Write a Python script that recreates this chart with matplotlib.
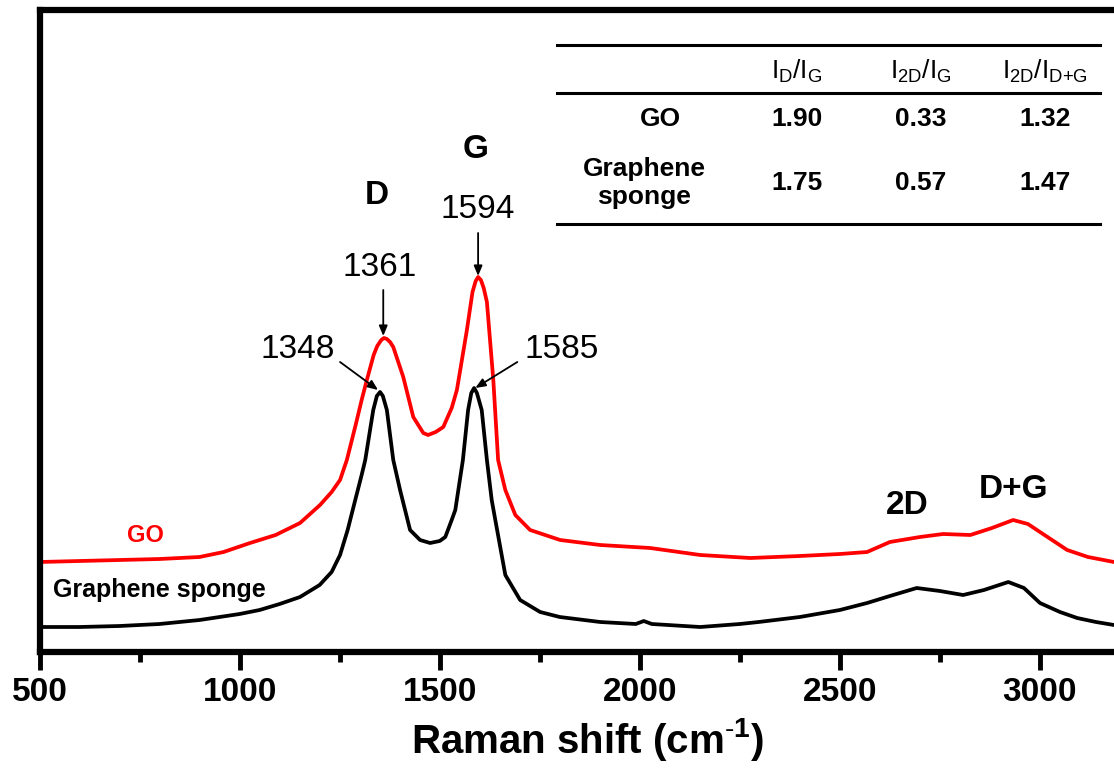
# Raman spectra: GO vs Graphene sponge
import numpy as np
import matplotlib
matplotlib.use('Agg')
import matplotlib.pyplot as plt
from matplotlib.lines import Line2D

plt.rcParams['font.family'] = ['Liberation Sans', 'DejaVu Sans']
plt.rcParams['mathtext.fontset'] = 'custom'
plt.rcParams['mathtext.rm'] = 'Liberation Sans'
plt.rcParams['mathtext.bf'] = 'Liberation Sans:bold'

# --- data (intensity in arbitrary units) ---
sponge_x = [500, 600, 700, 800, 900, 1000, 1050, 1100, 1151, 1200, 1230, 1251,
            1270, 1289, 1305, 1314, 1334, 1343, 1351, 1358, 1368, 1384, 1401,
            1426, 1451, 1476, 1500, 1514, 1530, 1539, 1558, 1571, 1579, 1586,
            1593, 1605, 1618, 1630, 1639, 1664, 1701, 1751, 1800, 1901, 1990,
            2010, 2030, 2151, 2250, 2297, 2400, 2500, 2568, 2625, 2692, 2750,
            2808, 2860, 2921, 2960, 3000, 3050, 3093, 3140, 3185]
sponge_y = [25, 25, 26, 28, 32, 38, 42, 48, 55, 67, 80, 97,
            122, 152, 177, 192, 242, 256, 260, 256, 242, 192, 162,
            122, 112, 109, 111, 115, 132, 142, 192, 242, 259, 264,
            259, 242, 192, 152, 132, 77, 52, 40, 35, 30, 28,
            31, 28, 25, 28, 30, 35, 42, 49, 56, 64, 61,
            57, 62, 70, 64, 49, 40, 34, 30, 27]

go_x = [500, 600, 700, 800, 900, 960, 1026, 1090, 1151, 1201, 1230, 1251,
        1268, 1290, 1305, 1318, 1335, 1344, 1354, 1361, 1368, 1376, 1384,
        1409, 1434, 1459, 1471, 1490, 1509, 1530, 1543, 1568, 1582, 1590,
        1596, 1603, 1610, 1618, 1634, 1646, 1664, 1689, 1726, 1801, 1901,
        2026, 2151, 2276, 2400, 2500, 2568, 2625, 2700, 2758, 2826, 2880,
        2933, 2970, 3000, 3068, 3120, 3185]
go_y = [90, 91, 92, 93, 95, 100, 109, 117, 129, 147, 160, 172,
        192, 227, 252, 272, 297, 306, 312, 314, 313, 310, 305,
        275, 235, 219, 217, 220, 225, 244, 262, 322, 360, 371,
        375, 372, 364, 350, 272, 192, 162, 137, 122, 112, 107,
        104, 97, 94, 96, 98, 100, 110, 115, 118, 117, 124,
        132, 128, 120, 102, 95, 90]

# peak annotations: label, text position, arrow start, arrow tip
peak_labels = ['1594', '1361', '1348', '1585']
peak_text = [(1596, 442), (1351, 384), (1146, 302), (1806, 302)]
peak_from = [(1596, 419), (1359, 362), (1251, 290), (1694, 290)]
peak_to = [(1596, 376), (1359, 316), (1346, 262), (1589, 264)]

band_labels = ['D', 'G', '2D', 'D+G']
band_pos = [(1344, 457), (1591, 502), (2669, 147), (2934, 162)]

# ratio table
table_cols = [r'$\mathregular{I_D/I_G}$', r'$\mathregular{I_{2D}/I_G}$',
              r'$\mathregular{I_{2D}/I_{\text{D+G}}}$']
table_rows = ['GO', 'Graphene\nsponge']
table_vals = [['1.90', '0.33', '1.32'],
              ['1.75', '0.57', '1.47']]

W, H = 1114, 774
fig = plt.figure(figsize=(W / 100, H / 100), dpi=100)
ax = fig.add_axes([39.5 / W, 1 - 652 / H, 1 - 39.5 / W, (652 - 10) / H])


def fp(x, y):
    # pixel -> figure fraction
    return x / W, 1 - y / H


ax.plot(sponge_x, sponge_y, color='black', lw=2.7)
ax.plot(go_x, go_y, color='#ff0000', lw=2.7)

ax.set_xlim(500, 3185)
ax.set_ylim(0, 642)
ax.set_yticks([])
ax.set_xticks([500, 1000, 1500, 2000, 2500, 3000])
ax.set_xticks([750, 1250, 1750, 2250, 2750], minor=True)
ax.tick_params(axis='x', which='major', direction='out', length=13, width=3.5,
               pad=5, labelsize=24)
ax.tick_params(axis='x', which='minor', direction='out', length=7, width=3.5)
for lab in ax.get_xticklabels():
    lab.set_fontweight('bold')
for s in ['left', 'bottom', 'top']:
    ax.spines[s].set_linewidth(4.5)
ax.spines['right'].set_visible(False)

ax.set_xlabel(r'Raman shift (cm$^{\mathbf{\text{-}1}}$)', fontsize=29,
              fontweight='bold', labelpad=6)
ax.xaxis.set_label_coords((588 - 39.5) / (W - 39.5), -0.1)

# peak positions
for lab, t, a, b in zip(peak_labels, peak_text, peak_from, peak_to):
    ax.text(t[0], t[1], lab, fontsize=24, ha='center', va='center')
    ax.annotate('', xy=b, xytext=a,
                arrowprops=dict(arrowstyle='-|>,head_length=0.6,head_width=0.25',
                                color='black', lw=1.3, shrinkA=0, shrinkB=0))

for lab, p in zip(band_labels, band_pos):
    ax.text(p[0], p[1], lab, fontsize=24, fontweight='bold',
            ha='center', va='center')

ax.text(764, 117, 'GO', color='#ff0000', fontsize=17, fontweight='bold',
        ha='center', va='center')
ax.text(534, 62, 'Graphene sponge', color='black', fontsize=18,
        fontweight='bold', ha='left', va='center')

# table
for yl in [45, 93, 224]:
    x0, y0 = fp(557, yl)
    x1, _ = fp(1100, yl)
    fig.add_artist(Line2D([x0, x1], [y0, y0], color='black', lw=2.2))
col_x = [797, 921, 1045]
for cx, c in zip(col_x, table_cols):
    fig.text(*fp(cx, 71), c, fontsize=19, ha='center', va='center')
row_y = [119, 183]
row_x = [660, 644]
for ry, rx, r, vals in zip(row_y, row_x, table_rows, table_vals):
    fig.text(*fp(rx, ry), r, fontsize=19, fontweight='bold', ha='center',
             va='center', linespacing=1.25)
    for cx, v in zip(col_x, vals):
        fig.text(*fp(cx, ry), v, fontsize=19, fontweight='bold',
                 ha='center', va='center')

fig.savefig('out.png', dpi=100)
